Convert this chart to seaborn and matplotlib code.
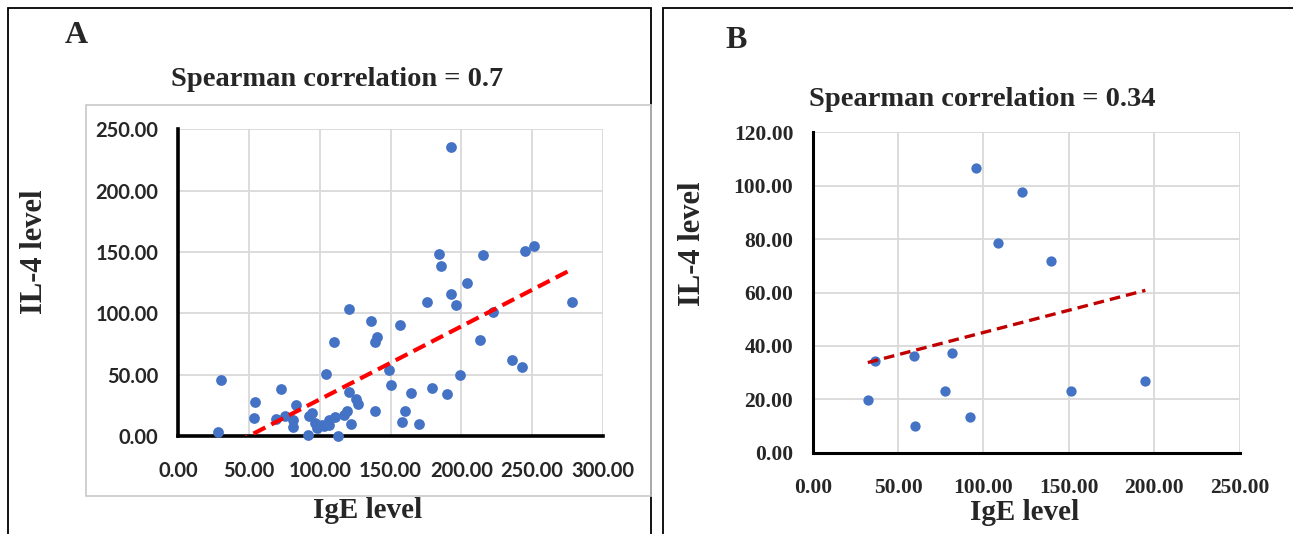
import numpy as np
import pandas as pd
import matplotlib
matplotlib.use("Agg")
import matplotlib.pyplot as plt
import seaborn as sns
from matplotlib.patches import Rectangle
from matplotlib.lines import Line2D
from matplotlib.ticker import FuncFormatter

# ---------------- data ----------------
ige_a = [28.2, 30.7, 54.1, 53.6, 72.7, 69.4, 75.5, 81.0, 81.0, 83.3,
         92.1, 92.2, 94.4, 96.5, 97.9, 101.4, 103.3, 104.8, 106.8, 106.8,
         110.8, 110.4, 113.1, 117.4, 119.0, 121.0, 121.0, 122.3, 125.5, 127.2,
         136.4, 138.8, 139.1, 140.8, 149.2, 150.2, 156.5, 158.4, 160.5, 164.8,
         170.0, 176.0, 179.0, 184.3, 185.5, 189.7, 192.9, 192.9, 196.2, 198.9,
         203.9, 213.2, 215.5, 222.1, 236.0, 242.6, 244.7, 251.5, 278.0]
il4_a = [3.4, 46.0, 27.6, 15.0, 38.5, 13.5, 16.6, 13.0, 7.5, 25.0,
         0.7, 16.4, 18.8, 10.5, 6.8, 9.0, 8.2, 50.2, 9.0, 13.0,
         15.8, 76.4, 0.3, 17.5, 20.7, 103.8, 36.1, 9.9, 29.9, 26.5,
         94.0, 20.5, 76.4, 80.8, 53.7, 41.5, 90.4, 11.2, 20.5, 35.3,
         9.4, 109.2, 38.9, 148.3, 138.3, 34.4, 235.8, 116.1, 107.0, 49.7,
         124.4, 78.6, 147.2, 100.8, 61.9, 56.4, 150.6, 154.7, 108.9]

ige_b = [95.6, 122.3, 108.6, 139.4, 36.2, 59.5, 81.4, 32.3, 77.3, 59.9, 92.1, 151.3, 194.8]
il4_b = [106.7, 97.8, 78.5, 71.9, 34.5, 36.3, 37.2, 19.7, 23.1, 10.0, 13.2, 23.1, 26.8]

# linear trend lines (slope, intercept)
trend_a = (0.596, -29.8)
trend_b = (0.1664, 28.39)

titles = ["Spearman correlation = 0.7", "Spearman correlation = 0.34"]
panel_letters = ["A", "B"]
xlabel = "IgE level"
ylabel = "IL-4 level"
xticks_a = [0, 50, 100, 150, 200, 250, 300]
yticks_a = [0, 50, 100, 150, 200, 250]
xticks_b = [0, 50, 100, 150, 200, 250]
yticks_b = [0, 20, 40, 60, 80, 100, 120]

df_a = pd.DataFrame({"IgE": ige_a, "IL4": il4_a})
df_b = pd.DataFrame({"IgE": ige_b, "IL4": il4_b})

# ---------------- style ----------------
sns.set_theme(style="white")
plt.rcParams["font.family"] = ["Liberation Serif", "DejaVu Serif"]

W, H = 1293, 534
fig = plt.figure(figsize=(W / 100, H / 100), dpi=100)
fig.patch.set_facecolor("white")

def fx(px):
    return px / W

def fy(py):
    return 1 - py / H

BLUE = "#4472C4"
GRID = "#d9d9d9"
fmt = FuncFormatter(lambda v, p: f"{v:.2f}")

# panel borders
fig.add_artist(Rectangle((fx(7.6), fy(560)), fx(650.5 - 7.6), (560 - 8) / H,
                         transform=fig.transFigure, fill=False, ec="black", lw=1.3))
fig.add_artist(Rectangle((fx(662.5), fy(560)), fx(1320 - 662.5), (560 - 8) / H,
                         transform=fig.transFigure, fill=False, ec="black", lw=1.3))
# inner chart area border of panel A
fig.add_artist(Rectangle((fx(86), fy(495.6)), fx(650.5 - 86), (495.6 - 104.6) / H,
                         transform=fig.transFigure, fill=False, ec="#c8c8c8", lw=1.2))

def style_axes(ax, xt, yt, tickfont, tsize, tweight, spine_lw):
    ax.set_xticks(xt)
    ax.set_yticks(yt)
    ax.set_xlim(xt[0], xt[-1])
    ax.set_ylim(yt[0], yt[-1])
    ax.xaxis.set_major_formatter(fmt)
    ax.yaxis.set_major_formatter(fmt)
    ax.grid(True, color=GRID, lw=1.3)
    ax.set_axisbelow(True)
    for s in ["top", "right"]:
        ax.spines[s].set_visible(False)
    for s in ["left", "bottom"]:
        ax.spines[s].set_color("black")
        ax.spines[s].set_linewidth(spine_lw)
        ax.spines[s].set_zorder(1)
    ax.tick_params(axis="both", length=0, labelsize=tsize)
    ax.tick_params(axis="x", pad=18)
    ax.tick_params(axis="y", pad=14)
    for lab in ax.get_xticklabels() + ax.get_yticklabels():
        lab.set_fontfamily(tickfont)
        lab.set_fontweight(tweight)
    ax.set_xlabel("")
    ax.set_ylabel("")

# ---------------- panel A ----------------
axA = fig.add_axes([fx(178), fy(436), fx(603 - 178), (436 - 129.4) / H])
sns.scatterplot(data=df_a, x="IgE", y="IL4", ax=axA, color=BLUE, s=60,
                edgecolor=BLUE, linewidth=0, zorder=3, clip_on=False)
xa = np.array([min(ige_a), max(ige_a)])
axA.plot(xa, trend_a[0] * xa + trend_a[1], color="#FF0000", lw=3.0,
         dashes=(3.2, 1.6), zorder=4)
style_axes(axA, xticks_a, yticks_a, ["Lato", "DejaVu Sans"], 14.5, "bold", 2.6)

fig.text(fx(337), fy(80), titles[0], ha="center", va="center",
         fontsize=20.5, fontweight="bold")
fig.text(fx(76), fy(36), panel_letters[0], ha="center", va="center",
         fontsize=23, fontweight="bold")
fig.text(fx(35), fy(252), ylabel, ha="center", va="center", rotation=90,
         fontsize=22, fontweight="bold")
fig.text(fx(368), fy(510), xlabel, ha="center", va="center",
         fontsize=21, fontweight="bold")

# ---------------- panel B ----------------
axB = fig.add_axes([fx(812.7), fy(452.7), fx(1239.6 - 812.7), (452.7 - 132.3) / H])
sns.scatterplot(data=df_b, x="IgE", y="IL4", ax=axB, color=BLUE, s=55,
                edgecolor=BLUE, linewidth=0, zorder=3, clip_on=False)
xb = np.array([min(ige_b), max(ige_b)])
axB.plot(xb, trend_b[0] * xb + trend_b[1], color="#C00000", lw=2.4,
         dashes=(3.2, 1.8), zorder=4)
style_axes(axB, xticks_b, yticks_b, ["Liberation Serif", "DejaVu Serif"], 15.5, "bold", 2.2)

fig.text(fx(982), fy(99), titles[1], ha="center", va="center",
         fontsize=20.5, fontweight="bold")
fig.text(fx(736), fy(40), panel_letters[1], ha="center", va="center",
         fontsize=23, fontweight="bold")
fig.text(fx(692), fy(244), ylabel, ha="center", va="center", rotation=90,
         fontsize=22, fontweight="bold")
fig.text(fx(1025), fy(512), xlabel, ha="center", va="center",
         fontsize=21, fontweight="bold")

fig.savefig("out.png", dpi=100, facecolor="white")
